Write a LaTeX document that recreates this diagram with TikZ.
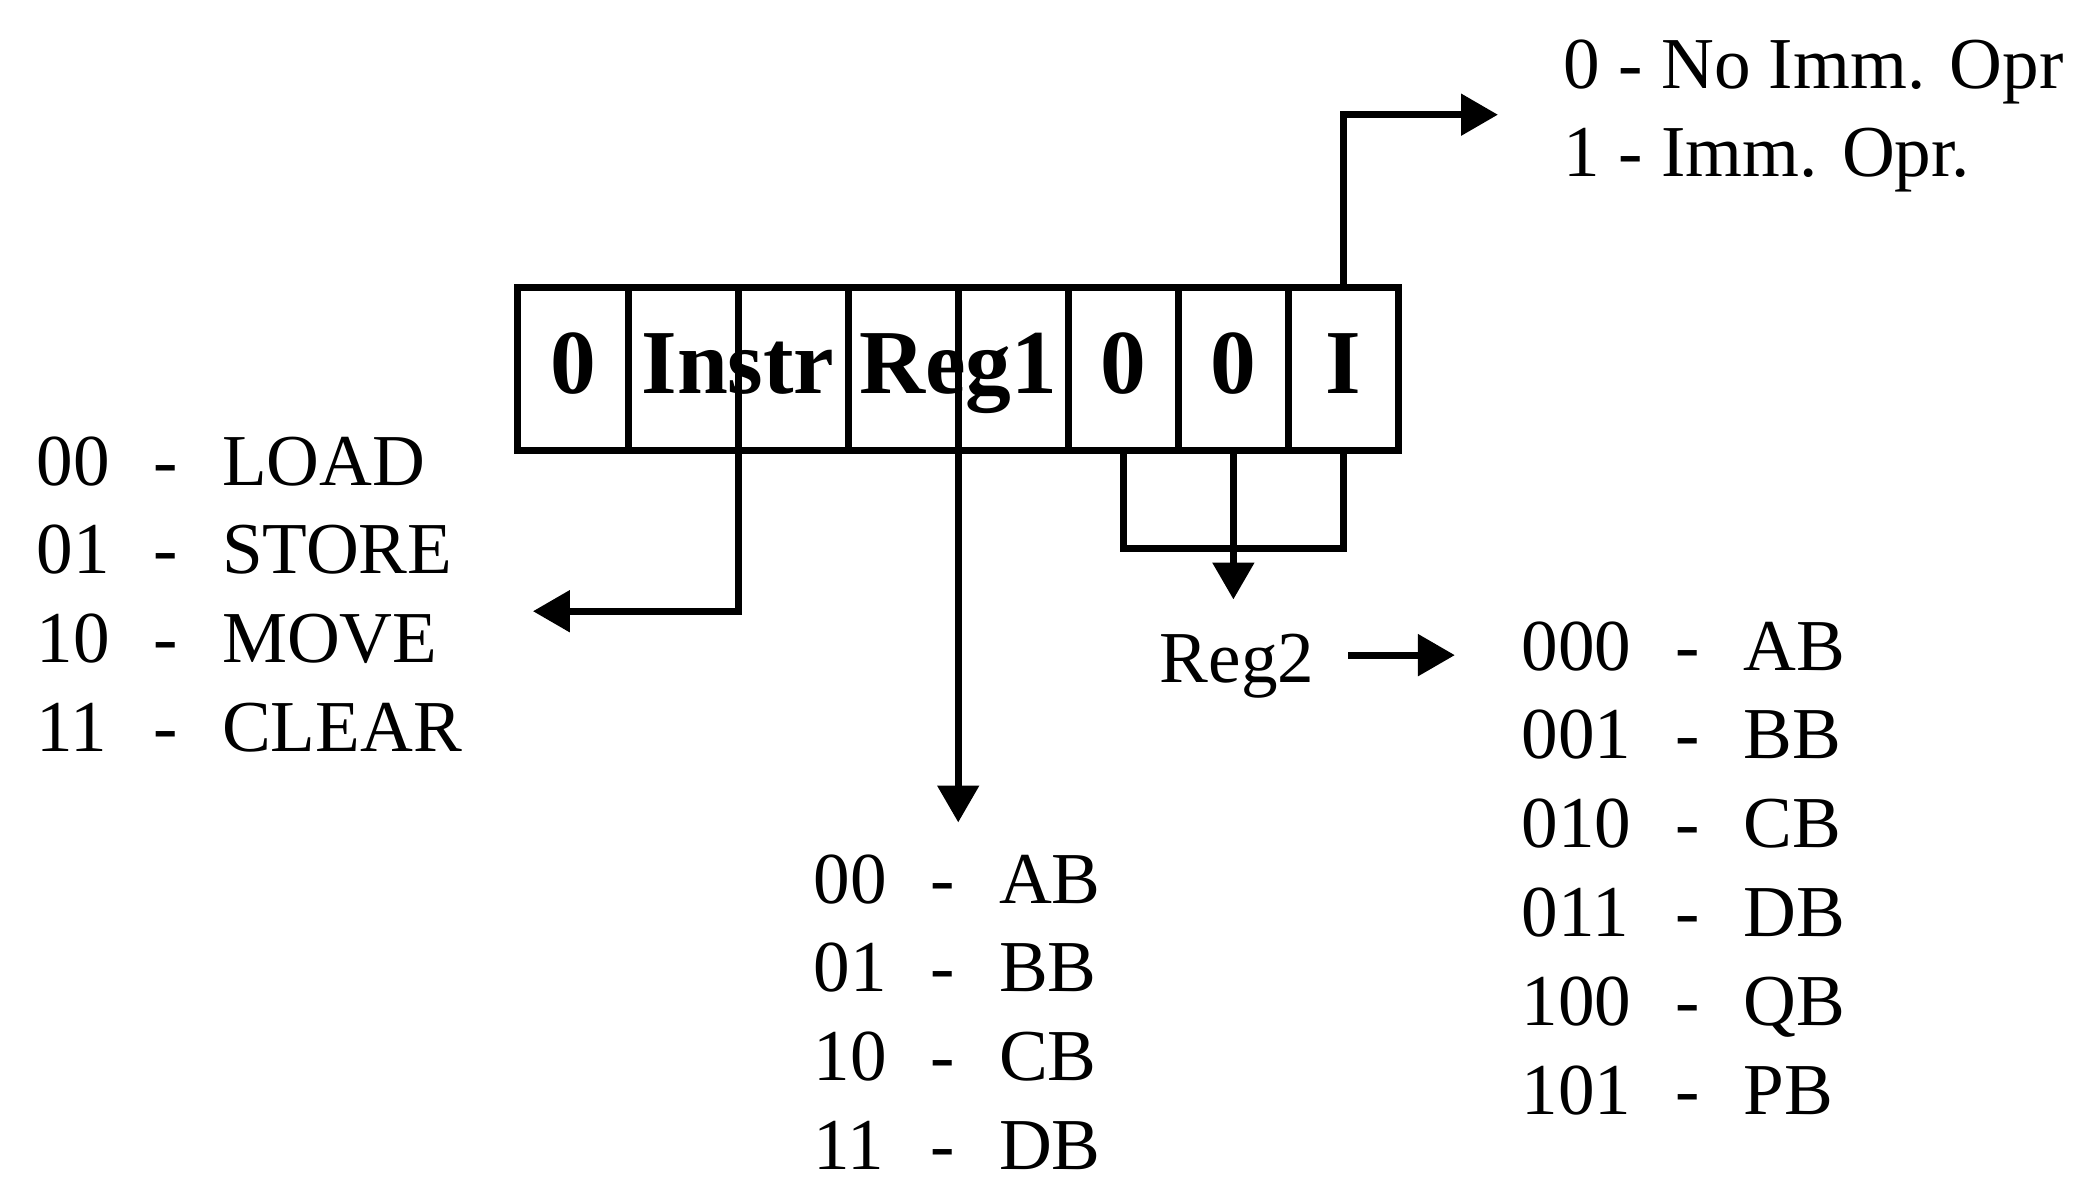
\documentclass[tikz,border=0pt]{standalone}
\usepackage{fontspec}
\setmainfont{Liberation Serif}
\usetikzlibrary{arrows.meta,positioning}
\newcommand{\codetab}[1]{\begin{tabular}[t]{@{}l@{\hspace{12.5pt}}c@{\hspace{12.5pt}}l@{}}#1\end{tabular}}

\begin{document}
\begin{tikzpicture}[x=0.01cm, y=-0.01cm,
  cell/.style={draw,line width=2pt,minimum width=1.1cm,minimum height=1.62cm,outer sep=0pt,inner sep=0pt},
  lbl/.style={font=\fontsize{26pt}{30pt}\selectfont\bfseries,anchor=base,yshift=-7.1pt,inner sep=0pt},
  txt/.style={font=\fontsize{20.8pt}{25.3pt}\selectfont,inner sep=0pt,anchor=base west},
  arr/.style={->,line width=2pt},
  >={Triangle[length=10.5pt,width=11.5pt]}]
\useasboundingbox (0,0) rectangle (2093,1184);
% instruction word
\node[cell] (c0) at (573,369) {};
\node[cell,right=0pt of c0] (c1) {};
\node[cell,right=0pt of c1] (c2) {};
\node[cell,right=0pt of c2] (c3) {};
\node[cell,right=0pt of c3] (c4) {};
\node[cell,right=0pt of c4] (c5) {};
\node[cell,right=0pt of c5] (c6) {};
\node[cell,right=0pt of c6] (c7) {};
\node[lbl] (b0) at (c0) {0};
\node[lbl] (binstr) at (c1.east) {Instr};
\node[lbl] (breg1) at (c3.east) {Reg1};
\node[lbl] (b5) at (c5) {0};
\node[lbl] (b6) at (c6) {0};
\node[lbl] (bimm) at (c7) {I};
% code tables
\node[txt] (oplist) at (36,485) {\codetab{00 & - & LOAD\\ 01 & - & STORE\\ 10 & - & MOVE\\ 11 & - & CLEAR}};
\node[txt] (r1list) at (813,903) {\codetab{00 & - & AB\\ 01 & - & BB\\ 10 & - & CB\\ 11 & - & DB}};
\node[txt] (r2list) at (1521,670) {\codetab{000 & - & AB\\ 001 & - & BB\\ 010 & - & CB\\ 011 & - & DB\\ 100 & - & QB\\ 101 & - & PB}};
\node[txt] (imm) at (1563,88) {\begin{tabular}[t]{@{}l@{}}0 - No Imm. Opr\\ 1 - Imm. Opr.\end{tabular}};
\node[txt,anchor=base,inner sep=9.5pt] (reg2) at (1237,682) {Reg2};
% connectors
\draw[arr,shorten >=20pt] (c2.south west) |- ([yshift=-3pt]oplist.east);
\draw[arr,shorten >=5pt] (c4.south west) -- (c4.south west |- r1list.north);
\draw[line width=2pt] (c5.south) -- ++(0,98) -| (c7.south);
\draw[arr] (c6.south) -- (c6.south |- reg2.north);
\draw[arr,shorten >=18.8pt] ([yshift=3pt]reg2.east) -- ([yshift=3pt]reg2.east -| r2list.west);
\draw[arr,shorten >=18.5pt] (c7.north) |- (imm.west);
\end{tikzpicture}
\end{document}
